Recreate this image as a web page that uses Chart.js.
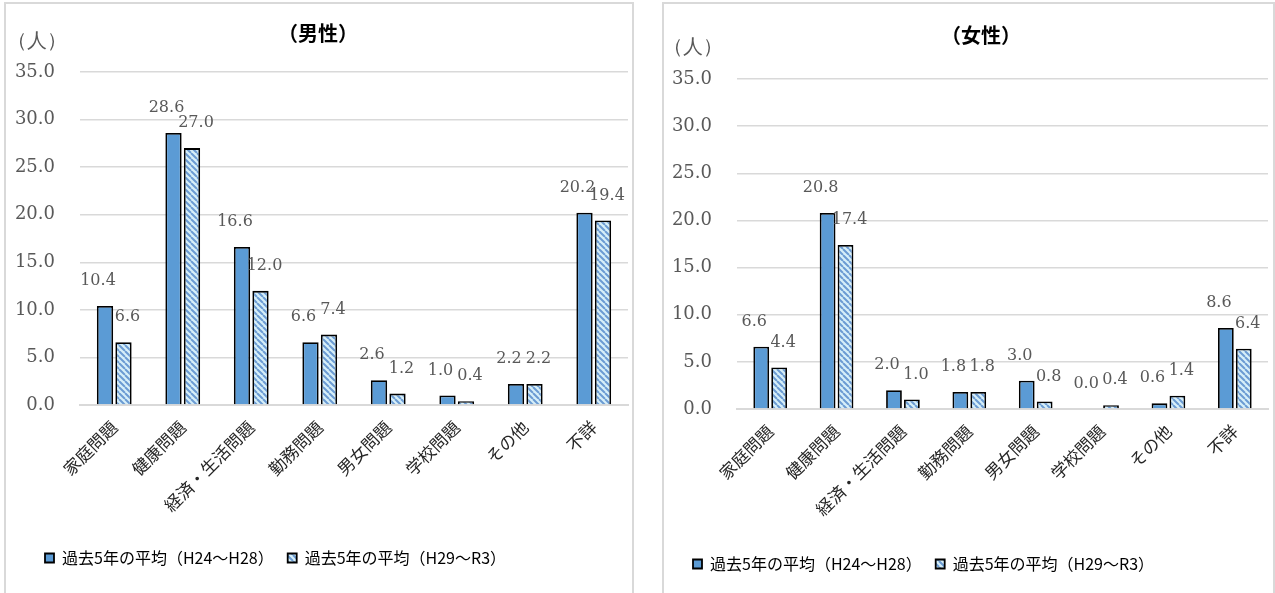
<!DOCTYPE html>
<html><head><meta charset="utf-8">
<script src="https://cdn.jsdelivr.net/npm/chart.js@4.4.0/dist/chart.umd.min.js"></script>
<style>
body{margin:0;overflow:hidden;background:#fff;width:1275px;height:593px;position:relative}
.frame{position:absolute;border:2px solid #d9d9d9;box-sizing:border-box;height:620px}
canvas{position:absolute}
</style></head><body>
<div class="frame" style="left:4px;top:2px;width:630px"></div>
<div class="frame" style="left:662px;top:2px;width:613px"></div>
<canvas id="male" width="627" height="600" style="left:5px;top:3px"></canvas>
<canvas id="female" width="610" height="600" style="left:663px;top:3px"></canvas>
<script>
const categories = ["家庭問題","健康問題","経済・生活問題","勤務問題","男女問題","学校問題","その他","不詳"];
const seriesNames = ["過去5年の平均（H24～H28）","過去5年の平均（H29～R3）"];
const maleOld = [10.4, 28.6, 16.6, 6.6, 2.6, 1.0, 2.2, 20.2];
const maleNew = [6.6, 27.0, 12.0, 7.4, 1.2, 0.4, 2.2, 19.4];
const femaleOld = [6.6, 20.8, 2.0, 1.8, 3.0, 0.0, 0.6, 8.6];
const femaleNew = [4.4, 17.4, 1.0, 1.8, 0.8, 0.4, 1.4, 6.4];
const yMax = 35, yStep = 5;

const CJK = '"Noto Sans CJK JP", sans-serif';
const SERIF = '"DejaVu Serif", serif';

function stripes() {
  const c = document.createElement("canvas");
  c.width = c.height = 6;
  const g = c.getContext("2d");
  g.fillStyle = "#d6eff9";
  g.fillRect(0, 0, 6, 6);
  g.strokeStyle = "#6b9bd3";
  g.lineWidth = 2;
  g.beginPath();
  for (let k = -6; k <= 6; k += 6) { g.moveTo(k, 0); g.lineTo(k + 6, 6); }
  g.stroke();
  return g.createPattern(c, "repeat");
}

// title, unit, value labels; nudges the legend sideways
const deco = {
  id: "deco",
  afterLayout(chart, args, o) {
    chart.legend.left += o.legendShift;
    chart.legend.right += o.legendShift;
  },
  afterDatasetsDraw(chart, args, o) {
    const ctx = chart.ctx;
    ctx.save();
    ctx.font = "16px " + SERIF;
    ctx.fillStyle = "#595959";
    ctx.textAlign = "center";
    ctx.textBaseline = "middle";
    chart.data.datasets.forEach((ds, i) => {
      chart.getDatasetMeta(i).data.forEach((bar, j) => {
        ctx.fillText(ds.data[j].toFixed(1), bar.x + (i === 0 ? -7 : 4), bar.y - 25);
      });
    });
    ctx.font = "bold 20px " + CJK;
    ctx.fillStyle = "#000";
    ctx.fillText(o.title, o.titleX, o.titleY);
    ctx.font = "20px " + SERIF;
    ctx.fillStyle = "#595959";
    ctx.textAlign = "left";
    ctx.fillText("（人）", o.unitX, o.unitY);
    ctx.restore();
  }
};

function makeChart(id, dataOld, dataNew, o) {
  return new Chart(id, {
    type: "bar",
    data: {
      labels: categories,
      datasets: [
        { label: seriesNames[0], data: dataOld, backgroundColor: "#5b9bd5", borderColor: "#000", borderWidth: 1.8 },
        { label: seriesNames[1], data: dataNew, backgroundColor: stripes(), borderColor: "#000", borderWidth: 1.8 }
      ]
    },
    plugins: [deco],
    options: {
      responsive: false,
      animation: false,
      categoryPercentage: 0.54,
      barPercentage: 0.88,
      layout: { padding: { left: o.padLeft, right: o.padRight, top: o.top, bottom: o.padBottom } },
      plugins: {
        legend: {
          position: "bottom",
          align: "start",
          labels: { boxWidth: 9, boxHeight: 9, padding: 14, color: "#000", font: { family: CJK, size: 16 } }
        },
        tooltip: { enabled: false },
        deco: o
      },
      scales: {
        x: {
          grid: { display: false },
          border: { color: "#d9d9d9", width: 2 },
          ticks: { color: "#262626", font: { family: CJK, size: 17 }, minRotation: 45, maxRotation: 45, padding: 4 },
          afterFit(s) { s.height = o.xHeight; }
        },
        y: {
          min: 0, max: yMax,
          border: { display: false },
          grid: { color: "#d9d9d9", lineWidth: 1.5, drawTicks: false },
          ticks: { stepSize: yStep, padding: 25, color: "#595959", font: { family: SERIF, size: 18 },
                   callback: v => v.toFixed(1) },
          afterFit(s) { s.width = o.yWidth; }
        }
      }
    }
  });
}

makeChart("male", maleOld, maleNew, {
  title: "（男性）", titleX: 313, titleY: 30, unitX: 2, unitY: 39, legendShift: 23,
  padLeft: 3, padRight: 4, top: 69, padBottom: 27, yWidth: 72, xHeight: 131
});
makeChart("female", femaleOld, femaleNew, {
  title: "（女性）", titleX: 318, titleY: 32, unitX: 0, unitY: 45, legendShift: 13,
  padLeft: 3, padRight: 5, top: 76, padBottom: 21, yWidth: 71, xHeight: 133
});
</script>
</body></html>
